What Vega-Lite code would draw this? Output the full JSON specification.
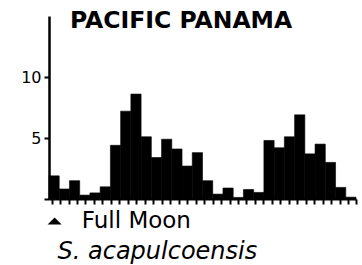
{
  "$schema": "https://vega.github.io/schema/vega-lite/v6.json",
  "width": 307,
  "height": 183,
  "autosize": "none",
  "padding": {"left": 49, "top": 16, "right": 6, "bottom": 66},
  "background": "white",
  "config": {"view": {"stroke": null}, "font": "DejaVu Sans"},
  "title": {
    "text": "PACIFIC PANAMA",
    "anchor": "start",
    "frame": "group",
    "dx": 21,
    "dy": 20,
    "fontSize": 23.5,
    "fontWeight": "bold",
    "font": "DejaVu Sans",
    "color": "black"
  },
  "layer": [
    {
      "data": {"values": [
        {"bin": 0, "count": 1.9}, {"bin": 1, "count": 0.82}, {"bin": 2, "count": 1.5},
        {"bin": 3, "count": 0.32}, {"bin": 4, "count": 0.5}, {"bin": 5, "count": 1.0},
        {"bin": 6, "count": 4.4}, {"bin": 7, "count": 7.2}, {"bin": 8, "count": 8.6},
        {"bin": 9, "count": 5.1}, {"bin": 10, "count": 3.4}, {"bin": 11, "count": 4.9},
        {"bin": 12, "count": 4.1}, {"bin": 13, "count": 2.7}, {"bin": 14, "count": 3.8},
        {"bin": 15, "count": 1.5}, {"bin": 16, "count": 0.4}, {"bin": 17, "count": 0.9},
        {"bin": 18, "count": 0.13}, {"bin": 19, "count": 0.78}, {"bin": 20, "count": 0.54},
        {"bin": 21, "count": 4.8}, {"bin": 22, "count": 4.2}, {"bin": 23, "count": 5.1},
        {"bin": 24, "count": 6.9}, {"bin": 25, "count": 3.7}, {"bin": 26, "count": 4.5},
        {"bin": 27, "count": 3.0}, {"bin": 28, "count": 0.95}, {"bin": 29, "count": 0.15}
      ]},
      "transform": [{"calculate": "datum.bin + 1", "as": "bin_end"}],
      "mark": {"type": "rect", "color": "black", "stroke": "black", "strokeWidth": 0.6},
      "encoding": {
        "x": {
          "field": "bin", "type": "quantitative",
          "scale": {"domain": [0, 30], "nice": false, "zero": false},
          "axis": {
            "values": [0.25, 1.08, 1.91, 2.73, 3.56, 4.39, 5.22, 6.05, 6.87, 7.7, 8.53, 9.36, 10.19, 11.01, 11.84, 12.67, 13.5, 14.33, 15.15, 15.98, 16.81, 17.64, 18.47, 19.29, 20.12, 20.95, 21.78, 22.61, 23.43, 24.26, 25.09, 25.92, 26.75, 27.57, 28.4, 29.23, 29.98],
            "tickCount": 60,
            "labels": false,
            "grid": false,
            "domainColor": "black",
            "domainWidth": 2,
            "tickColor": "black",
            "tickWidth": 2,
            "tickSize": 5,
            "tickRound": true,
            "title": "S. acapulcoensis",
            "titleFont": "DejaVu Sans",
            "titleFontStyle": "italic",
            "titleFontWeight": "normal",
            "titleFontSize": 24,
            "titleColor": "black",
            "titleAnchor": "start",
            "titleAlign": "left",
            "titleX": 8,
            "titlePadding": 34
          }
        },
        "x2": {"field": "bin_end"},
        "y": {
          "field": "count", "type": "quantitative",
          "scale": {"domain": [0, 15], "nice": false},
          "axis": {
            "values": [0, 5, 10],
            "labelExpr": "datum.value == 0 ? '' : datum.label",
            "grid": false,
            "title": null,
            "domainColor": "black",
            "domainWidth": 2.5,
            "tickColor": "black",
            "tickWidth": 2,
            "tickSize": 5,
            "labelFont": "DejaVu Sans",
            "labelFontSize": 16,
            "labelColor": "black",
            "labelPadding": 3
          }
        },
        "y2": {"datum": 0}
      }
    },
    {
      "data": {"values": [{"pos": 0.55, "level": -1.8, "label": "Full Moon"}]},
      "mark": {"type": "point", "shape": "M-1,0.5L1,0.5L0,-0.5Z", "filled": true, "color": "black", "opacity": 1, "size": 196, "clip": false},
      "encoding": {
        "x": {"field": "pos", "type": "quantitative"},
        "y": {"field": "level", "type": "quantitative"}
      }
    },
    {
      "data": {"values": [{"pos": 3.2, "level": -1.8, "label": "Full Moon"}]},
      "mark": {"type": "text", "align": "left", "baseline": "middle", "font": "DejaVu Sans", "fontSize": 23, "color": "black", "clip": false},
      "encoding": {
        "x": {"field": "pos", "type": "quantitative"},
        "y": {"field": "level", "type": "quantitative"},
        "text": {"field": "label"}
      }
    }
  ]
}
